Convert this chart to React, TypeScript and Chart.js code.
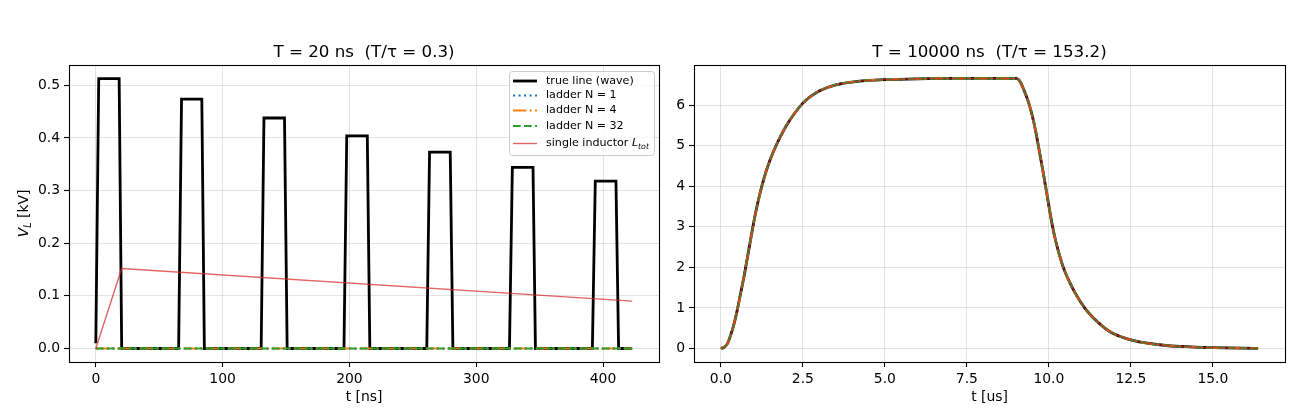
import React, { useEffect, useRef } from "react";
import { Chart, registerables } from "chart.js";

Chart.register(...registerables);

const FONT = "'DejaVu Sans', sans-serif";

// left panel, T = 20 ns : time in ns, voltage in kV
const leftTrueT = [0, 2.3, 18.4, 20.4, 65.3, 67.6, 83.6, 85.6, 130.4, 132.6, 148.8, 150.9, 195.7, 197.9, 214.1, 216.1, 261.0, 263.2, 279.5, 281.6, 326.2, 328.5, 344.8, 346.7, 391.6, 393.9, 410.2, 412.3, 423];
const leftTrueV = [0.01, 0.513, 0.513, 0, 0, 0.474, 0.474, 0, 0, 0.438, 0.438, 0, 0, 0.404, 0.404, 0, 0, 0.373, 0.373, 0, 0, 0.344, 0.344, 0, 0, 0.318, 0.318, 0, 0];
const leftLadderT = [0, 423];
const leftLadder1V = [0, 0];
const leftLadder4V = [0, 0];
const leftLadder32V = [0, 0];
const leftInductorT = [0, 20.4, 423];
const leftInductorV = [0, 0.152, 0.09];

// right panel, T = 10000 ns : time in us, voltage in kV
const rightT = [0, 0.1, 0.2, 0.3, 0.4, 0.5, 0.6, 0.7, 0.8, 0.9, 1.0, 1.1, 1.2, 1.3, 1.4, 1.6, 1.8, 2.0, 2.25, 2.5, 2.75, 3.0, 3.5, 4.0, 4.5, 5.0, 6.0, 7.0, 8.0, 9.0,
  9.1, 9.2, 9.3, 9.4, 9.5, 9.6, 9.7, 9.8, 9.9, 10.0, 10.1, 10.2, 10.3, 10.44, 10.6, 10.8, 11.09, 11.4, 11.65, 11.85, 12.2, 12.56, 13.0, 13.5, 14.0, 15.0, 16.38];
const rightTrueV = [0, 0.03, 0.12, 0.33, 0.6, 0.95, 1.35, 1.75, 2.2, 2.65, 3.1, 3.5, 3.85, 4.15, 4.42, 4.85, 5.2, 5.5, 5.8, 6.05, 6.22, 6.35, 6.5, 6.57, 6.61, 6.63, 6.65, 6.66, 6.66, 6.66,
  6.61, 6.45, 6.25, 6.02, 5.72, 5.35, 4.91, 4.46, 4.0, 3.52, 3.06, 2.68, 2.37, 2.0, 1.69, 1.37, 1.0, 0.72, 0.54, 0.42, 0.29, 0.2, 0.13, 0.08, 0.05, 0.02, 0.005];
const rightLadder1V = rightTrueV;
const rightLadder4V = rightTrueV;
const rightLadder32V = rightTrueV;
const rightInductorV = rightTrueV;

const seriesLabels = ["true line (wave)", "ladder N = 1", "ladder N = 4", "ladder N = 32", "single inductor "];
const seriesStyle = [
  { color: "#000000", width: 2.8, dash: [] as number[] },
  { color: "#1f77b4", width: 2.1, dash: [2.1, 3.4] },
  { color: "#ff7f0e", width: 2.1, dash: [13.3, 3.3, 2.1, 3.3] },
  { color: "#2ca02c", width: 2.1, dash: [7.7, 3.3] },
  { color: "rgba(214,39,40,0.72)", width: 1.4, dash: [] as number[] },
];

const pts = (xs: number[], ys: number[]) => xs.map((x, i) => ({ x, y: ys[i] }));

type PanelCfg = {
  width: number;
  yAxisWidth: number;
  padRight: number;
  series: { x: number; y: number }[][];
  smooth: boolean;
  xMin: number; xMax: number; xStep: number; xDec: number;
  yMin: number; yMax: number; yStep: number; yDec: number;
  title: string;
  xLabel: string;
  yLabel: boolean;
  legend: boolean;
};

const drawYLabel = (ctx: CanvasRenderingContext2D, cx: number, cy: number) => {
  const it = `italic 13.9px ${FONT}`;
  const sub = `italic 9.7px ${FONT}`;
  const reg = `13.9px ${FONT}`;
  ctx.font = it; const wV = ctx.measureText("V").width;
  ctx.font = sub; const wL = ctx.measureText("L").width;
  ctx.font = reg; const wR = ctx.measureText(" [kV]").width;
  ctx.save();
  ctx.translate(cx, cy);
  ctx.rotate(-Math.PI / 2);
  ctx.textBaseline = "alphabetic";
  ctx.textAlign = "left";
  let x = -(wV + wL + wR) / 2;
  ctx.font = it; ctx.fillText("V", x, 5); x += wV;
  ctx.font = sub; ctx.fillText("L", x, 8); x += wL;
  ctx.font = reg; ctx.fillText(" [kV]", x, 5);
  ctx.restore();
};

const drawLegend = (ctx: CanvasRenderingContext2D) => {
  const x0 = 509.5, y0 = 71.5, w = 145, h = 84;
  ctx.save();
  ctx.beginPath();
  if ((ctx as any).roundRect) (ctx as any).roundRect(x0, y0, w, h, 3);
  else ctx.rect(x0, y0, w, h);
  ctx.fillStyle = "rgba(255,255,255,0.8)";
  ctx.fill();
  ctx.strokeStyle = "#cccccc";
  ctx.lineWidth = 1;
  ctx.stroke();
  const rows = [81, 95.5, 110.5, 126, 143.5];
  const font = `11.1px ${FONT}`;
  seriesStyle.forEach((s, i) => {
    const y = rows[i];
    ctx.beginPath();
    ctx.setLineDash(s.dash);
    ctx.strokeStyle = s.color;
    ctx.lineWidth = s.width;
    ctx.moveTo(513, y);
    ctx.lineTo(537, y);
    ctx.stroke();
    ctx.setLineDash([]);
    ctx.fillStyle = "#000";
    ctx.textBaseline = "middle";
    ctx.textAlign = "left";
    ctx.font = font;
    ctx.fillText(seriesLabels[i], 546, y);
    if (i === 4) {
      let x = 546 + ctx.measureText(seriesLabels[i]).width;
      ctx.font = `italic 11.1px ${FONT}`;
      ctx.fillText("L", x, y);
      x += ctx.measureText("L").width;
      ctx.font = `italic 7.8px ${FONT}`;
      ctx.fillText("tot", x, y + 3);
    }
  });
  ctx.restore();
};

const decorPlugin = {
  id: "decor",
  afterDraw(chart: any, _args: any, opts: any) {
    const { ctx, chartArea: a } = chart;
    ctx.save();
    ctx.strokeStyle = "#000";
    ctx.lineWidth = 1.1;
    ctx.strokeRect(a.left + 0.5, a.top + 0.5, a.right - a.left, a.bottom - a.top);
    const cx = (a.left + a.right) / 2;
    ctx.fillStyle = "#000";
    ctx.textAlign = "center";
    ctx.textBaseline = "alphabetic";
    ctx.font = `16.7px ${FONT}`;
    ctx.fillText(opts.title, cx, 57);
    ctx.font = `13.9px ${FONT}`;
    ctx.fillText(opts.xLabel, cx, 401);
    ctx.restore();
    if (opts.yLabel) drawYLabel(ctx, 23, (a.top + a.bottom) / 2);
    if (opts.legend) drawLegend(ctx);
  },
};

const axis = (min: number, max: number, step: number, dec: number, fit: (s: any) => void) => ({
  type: "linear" as const,
  min,
  max,
  afterFit: fit,
  border: { display: false },
  grid: { color: "rgba(176,176,176,0.35)", lineWidth: 1, tickColor: "#000", tickLength: 5, tickWidth: 1.1 },
  ticks: {
    stepSize: step,
    includeBounds: false,
    autoSkip: false,
    maxRotation: 0,
    padding: 4,
    color: "#000",
    font: { family: FONT, size: 13.9 },
    callback: (v: any) => Number(v).toFixed(dec),
  },
});

const Panel = ({ cfg, left }: { cfg: PanelCfg; left: number }) => {
  const ref = useRef<HTMLCanvasElement>(null);

  useEffect(() => {
    if (!ref.current) return;
    const chart = new Chart(ref.current, {
      type: "line",
      data: {
        datasets: cfg.series.map((d, i) => ({
          data: d,
          borderColor: seriesStyle[i].color,
          borderWidth: seriesStyle[i].width,
          borderDash: seriesStyle[i].dash,
          pointRadius: 0,
          fill: false,
          tension: 0,
          cubicInterpolationMode: cfg.smooth ? ("monotone" as const) : ("default" as const),
          order: 5 - i,
        })),
      },
      options: {
        responsive: false,
        animation: false,
        layout: { padding: { top: 65, left: 0, right: cfg.padRight, bottom: 0 } },
        scales: {
          x: axis(cfg.xMin, cfg.xMax, cfg.xStep, cfg.xDec, (s: any) => { s.height = 58; }),
          y: axis(cfg.yMin, cfg.yMax, cfg.yStep, cfg.yDec, (s: any) => { s.width = cfg.yAxisWidth; }),
        },
        plugins: {
          legend: { display: false },
          tooltip: { enabled: false },
          decor: { title: cfg.title, xLabel: cfg.xLabel, yLabel: cfg.yLabel, legend: cfg.legend },
        } as any,
      },
      plugins: [decorPlugin],
    });
    return () => chart.destroy();
  }, []);

  return (
    <canvas
      ref={ref}
      width={cfg.width}
      height={420}
      style={{ position: "absolute", left, top: 0, width: cfg.width, height: 420 }}
    />
  );
};

const leftCfg: PanelCfg = {
  width: 680,
  yAxisWidth: 69,
  padRight: 21,
  series: [
    pts(leftTrueT, leftTrueV),
    pts(leftLadderT, leftLadder1V),
    pts(leftLadderT, leftLadder4V),
    pts(leftLadderT, leftLadder32V),
    pts(leftInductorT, leftInductorV),
  ],
  smooth: false,
  xMin: -21.15, xMax: 444.15, xStep: 100, xDec: 0,
  yMin: -0.02565, yMax: 0.5387, yStep: 0.1, yDec: 1,
  title: "T = 20 ns  (T/τ = 0.3)",
  xLabel: "t [ns]",
  yLabel: true,
  legend: true,
};

const rightCfg: PanelCfg = {
  width: 630,
  yAxisWidth: 24,
  padRight: 15,
  series: [
    pts(rightT, rightTrueV),
    pts(rightT, rightLadder1V),
    pts(rightT, rightLadder4V),
    pts(rightT, rightLadder32V),
    pts(rightT, rightInductorV),
  ],
  smooth: true,
  xMin: -0.819, xMax: 17.2, xStep: 2.5, xDec: 1,
  yMin: -0.333, yMax: 6.99, yStep: 1, yDec: 0,
  title: "T = 10000 ns  (T/τ = 153.2)",
  xLabel: "t [us]",
  yLabel: false,
  legend: false,
};

export default function App() {
  return (
    <div style={{ position: "absolute", left: 0, top: 0, width: 1300, height: 420, background: "#fff" }}>
      <Panel cfg={leftCfg} left={0} />
      <Panel cfg={rightCfg} left={670} />
    </div>
  );
}
